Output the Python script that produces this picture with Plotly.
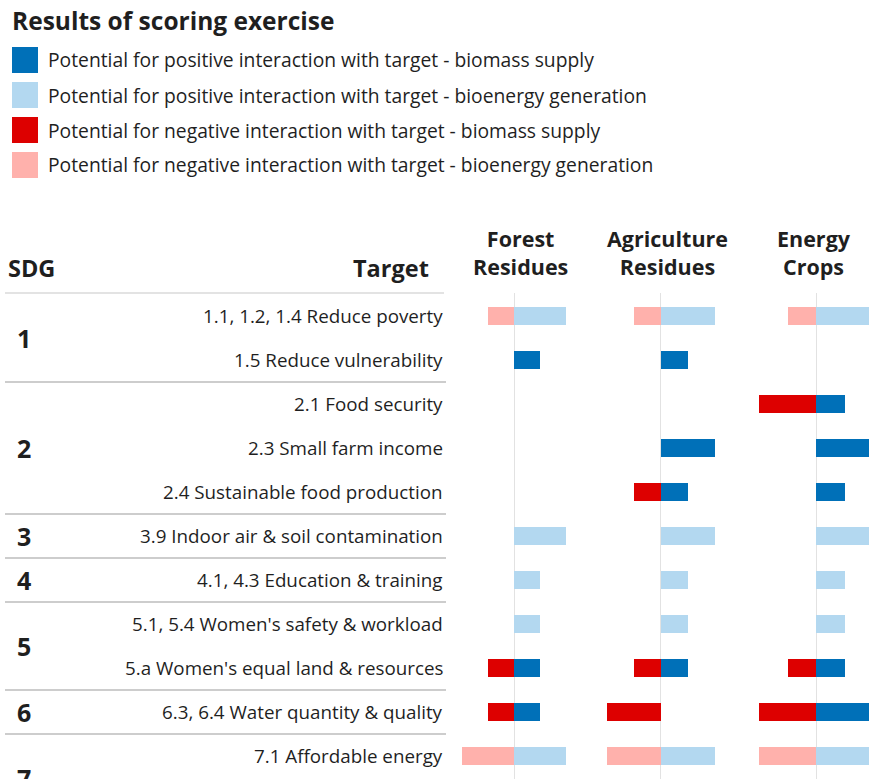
import plotly.graph_objects as go

# ---------------- data ----------------
title = "Results of scoring exercise"
series_names = [
    "Potential for positive interaction with target - biomass supply",
    "Potential for positive interaction with target - bioenergy generation",
    "Potential for negative interaction with target - biomass supply",
    "Potential for negative interaction with target - bioenergy generation",
]
panels = ["Forest<br>Residues", "Agriculture<br>Residues", "Energy<br>Crops"]
targets = [
    "1.1, 1.2, 1.4 Reduce poverty",
    "1.5 Reduce vulnerability",
    "2.1 Food security",
    "2.3 Small farm income",
    "2.4 Sustainable food production",
    "3.9 Indoor air & soil contamination",
    "4.1, 4.3 Education & training",
    "5.1, 5.4 Women's safety & workload",
    "5.a Women's equal land & resources",
    "6.3, 6.4 Water quantity & quality",
    "7.1 Affordable energy",
]
sdg_labels = ["1", "2", "3", "4", "5", "6", "7"]
sdg_row_counts = [2, 3, 1, 1, 2, 1, 2]   # SDG 7 continues below the visible area

# Forest residues
forest_supply_pos = [None, 1, None, None, None, None, None, None, 1, 1, None]
forest_gen_pos    = [2, None, None, None, None, 2, 1, 1, None, None, 2]
forest_supply_neg = [None, None, None, None, None, None, None, None, -1, -1, None]
forest_gen_neg    = [-1, None, None, None, None, None, None, None, None, None, -2]
# Agriculture residues
agri_supply_pos = [None, 1, None, 2, 1, None, None, None, 1, None, None]
agri_gen_pos    = [2, None, None, None, None, 2, 1, 1, None, None, 2]
agri_supply_neg = [None, None, None, None, -1, None, None, None, -1, -2, None]
agri_gen_neg    = [-1, None, None, None, None, None, None, None, None, None, -2]
# Energy crops
energy_supply_pos = [None, None, 1, 2, 1, None, None, None, 1, 2, None]
energy_gen_pos    = [2, None, None, None, None, 2, 1, 1, None, None, 2]
energy_supply_neg = [None, None, -2, None, None, None, None, None, -1, -2, None]
energy_gen_neg    = [-1, None, None, None, None, None, None, None, None, None, -2]

panel_values = [
    [forest_supply_pos, forest_gen_pos, forest_supply_neg, forest_gen_neg],
    [agri_supply_pos, agri_gen_pos, agri_supply_neg, agri_gen_neg],
    [energy_supply_pos, energy_gen_pos, energy_supply_neg, energy_gen_neg],
]

# ---------------- style ----------------
W, H = 869, 779
colors = ["#0070B8", "#B3D8F0", "#DD0000", "#FFB1AC"]
FONT = "Open Sans"
TXT = "#1F1F1F"

def px(x):
    return x / W

def py(y):
    return 1 - y / H

row_top_px = 316      # centre of first row
row_step_px = 44
dom_top_px = 293
y_range = [(H - row_top_px) / row_step_px, (dom_top_px - row_top_px) / row_step_px]

# panel geometry (centre pixel, pixel per unit)
panel_geo = [(514, 26.0), (660.5, 27.0), (816, 28.5)]

fig = go.Figure()
rows = list(range(len(targets)))
axis_names = ["x", "x2", "x3"]
for p, vals in enumerate(panel_values):
    for s, v in enumerate(vals):
        fig.add_trace(go.Bar(
            x=v, y=rows, orientation="h", xaxis=axis_names[p], yaxis="y",
            marker=dict(color=colors[s], line=dict(width=0)),
            width=0.4, name=series_names[s], showlegend=False,
            hoverinfo="skip",
        ))

layout_axes = {}
for p, (c, u) in enumerate(panel_geo):
    left = c - 2.5 * u
    right = min(c + 2.5 * u, W)
    rng = [(left - c) / u, (right - c) / u]
    key = "xaxis" if p == 0 else f"xaxis{p+1}"
    layout_axes[key] = dict(
        domain=[px(left), px(right)], range=rng, anchor="y",
        showgrid=False, showticklabels=False, ticks="",
        zeroline=True, zerolinecolor="#E2E2E2", zerolinewidth=1.2,
        showline=False, fixedrange=True,
    )

fig.update_layout(
    width=W, height=H, margin=dict(l=0, r=0, t=0, b=0),
    paper_bgcolor="white", plot_bgcolor="rgba(0,0,0,0)",
    barmode="relative", bargap=0,
    font=dict(family=FONT, color=TXT),
    yaxis=dict(domain=[0, py(dom_top_px)], range=y_range, visible=False,
               fixedrange=True),
    **layout_axes,
)

ann = []
shapes = []
# title
ann.append(dict(text=f"<b>{title}</b>", x=px(10), y=py(21), xref="paper", yref="paper",
                xanchor="left", yanchor="middle", showarrow=False,
                font=dict(size=24.5, family=FONT, color=TXT)))
# legend
for i, name in enumerate(series_names):
    yc = 60 + 35 * i
    shapes.append(dict(type="rect", xref="paper", yref="paper",
                       x0=px(12), x1=px(38), y0=py(yc - 13), y1=py(yc + 13),
                       fillcolor=colors[i], line=dict(width=0)))
    ann.append(dict(text=name, x=px(46), y=py(yc), xref="paper", yref="paper",
                    xanchor="left", yanchor="middle", showarrow=False,
                    font=dict(size=19.3, family=FONT, color=TXT)))
# column headers
ann.append(dict(text="<b>SDG</b>", x=px(6), y=py(268), xref="paper", yref="paper",
                xanchor="left", yanchor="middle", showarrow=False,
                font=dict(size=23.5, family=FONT, color=TXT)))
ann.append(dict(text="<b>Target</b>", x=px(431), y=py(268), xref="paper", yref="paper",
                xanchor="right", yanchor="middle", showarrow=False,
                font=dict(size=23.5, family=FONT, color=TXT)))
header_x = [520, 667, 814]
for name, hx in zip(panels, header_x):
    ann.append(dict(text=f"<b>{name}</b>", x=px(hx), y=py(252), xref="paper", yref="paper",
                    xanchor="center", yanchor="middle", showarrow=False,
                    font=dict(size=21.5, family=FONT, color=TXT)))
# target labels
for i, t in enumerate(targets):
    ann.append(dict(text=t, x=px(445), y=i, xref="paper", yref="y",
                    xanchor="right", yanchor="middle", showarrow=False,
                    font=dict(size=18.8, family=FONT, color=TXT)))
# SDG labels and separators
shapes.append(dict(type="line", xref="paper", yref="paper", x0=px(5), x1=px(444),
                   y0=py(dom_top_px), y1=py(dom_top_px),
                   line=dict(color="#C8C8C8", width=1.2)))
start = 0
for lab, n in zip(sdg_labels, sdg_row_counts):
    ann.append(dict(text=f"<b>{lab}</b>", x=px(15), y=start + (n - 1) / 2,
                    xref="paper", yref="y", xanchor="left", yanchor="middle",
                    showarrow=False, font=dict(size=25, family=FONT, color=TXT)))
    end = start + n
    if end < len(targets):
        shapes.append(dict(type="line", xref="paper", yref="y", x0=px(5), x1=px(446),
                           y0=end - 0.5, y1=end - 0.5,
                           line=dict(color="#BDBDBD", width=1.5)))
    start = end

fig.update_layout(annotations=ann, shapes=shapes)
fig.write_html("out.html", config={"displayModeBar": False},
               post_script="document.body.style.margin='0px';")
